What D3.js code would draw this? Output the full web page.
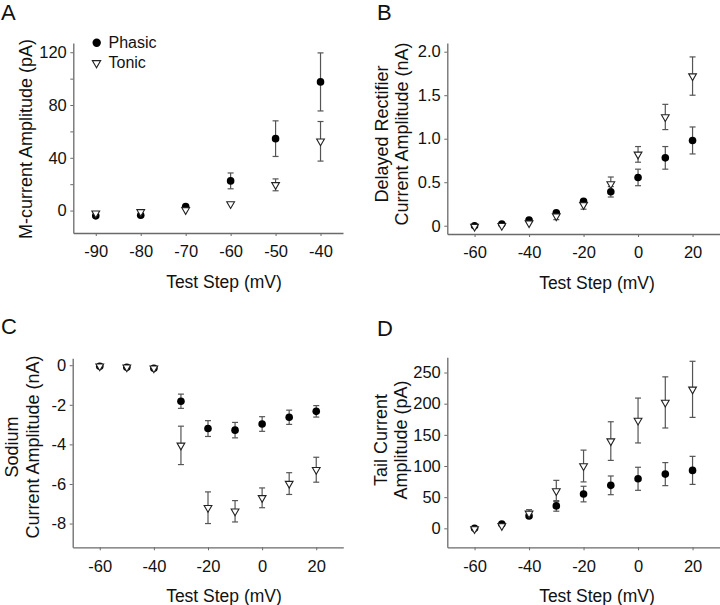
<!DOCTYPE html>
<html><head><meta charset="utf-8">
<script src="https://cdn.jsdelivr.net/npm/d3@7"></script>
<style>
body{margin:0;background:#fff;}
svg{display:block;font-family:"Liberation Sans",Arial,sans-serif;}
</style></head>
<body>
<svg id="chart" width="720" height="605"></svg>
<script>
// ---- Data ----
// Panel A: M-current
const stepsA = [-90, -80, -70, -60, -50, -40];
const phasicA = [-4, -3.5, 3, 22.5, 54.5, 97.5];
const phasicA_sem = [0, 0, 0, 6, 13.5, 22];
const tonicA = [-2, -1, 0.5, 5, 19.5, 52.5];
const tonicA_sem = [0, 0, 0, 0, 4.5, 15];
const yTicksA = [0, 40, 80, 120];
const yMinorA = [20, 60, 100];
const xTicksA = [-90, -80, -70, -60, -50, -40];

// Panel B: delayed rectifier
const stepsB = [-60, -50, -40, -30, -20, -10, 0, 10, 20];
const phasicB = [0, 0.02, 0.065, 0.15, 0.28, 0.39, 0.555, 0.78, 0.98];
const phasicB_sem = [0, 0, 0, 0, 0.02, 0.06, 0.095, 0.13, 0.155];
const tonicB = [-0.01, 0, 0.03, 0.11, 0.24, 0.48, 0.82, 1.25, 1.72];
const tonicB_sem = [0, 0, 0, 0.04, 0.05, 0.08, 0.09, 0.145, 0.22];
const yTicksB = [0, 0.5, 1.0, 1.5, 2.0];

// Panel C: sodium
const stepsC = [-60, -50, -40, -30, -20, -10, 0, 10, 20];
const phasicC = [-0.05, -0.1, -0.15, -1.82, -3.2, -3.28, -2.97, -2.63, -2.33];
const phasicC_sem = [0, 0, 0, 0.36, 0.4, 0.39, 0.37, 0.36, 0.29];
const tonicC = [-0.05, -0.1, -0.15, -4.05, -7.2, -7.38, -6.7, -5.98, -5.28];
const tonicC_sem = [0, 0, 0, 0.97, 0.8, 0.54, 0.5, 0.55, 0.63];
const yTicksC = [0, -2, -4, -6, -8];

// Panel D: tail current
const stepsD = [-60, -50, -40, -30, -20, -10, 0, 10, 20];
const phasicD = [0, 7, 20, 36, 55, 69, 79.5, 87, 93];
const phasicD_sem = [0, 0, 0, 8.5, 12.5, 15, 18.5, 18.5, 22.5];
const tonicD = [-1, 4, 24, 60, 100, 140, 173, 202, 223];
const tonicD_sem = [0, 0, 6, 17, 25.5, 31, 36, 41, 45];
const yTicksD = [0, 50, 100, 150, 200, 250];

const xTicksBCD = [-60, -40, -20, 0, 20];
const seriesNames = ["Phasic", "Tonic"];

// ---- Drawing ----
const svg = d3.select("#chart");
const AXIS = "#6a6a6a", BAR = "#555", TXT = "#111";
const intFmt = d => String(Math.round(d)).replace("\u2212", "-");
const fmt1 = d => d === 0 ? "0" : d.toFixed(1);

function panel(cfg) {
  const g = svg.append("g");
  const x = d3.scaleLinear().domain(cfg.xDomain).range(cfg.xRange);
  const y = d3.scaleLinear().domain(cfg.yDomain).range(cfg.yRange);
  const y0 = cfg.yRange[0], x0 = cfg.xRange[0];

  const xa = g.append("g").attr("transform", `translate(0,${y0})`)
    .call(d3.axisBottom(x).tickValues(cfg.xTicks).tickSize(3).tickSizeOuter(0).tickPadding(9.5).tickFormat(intFmt));
  const ya = g.append("g").attr("transform", `translate(${x0},0)`)
    .call(d3.axisLeft(y).tickValues(cfg.yTicks).tickSize(3).tickSizeOuter(0).tickPadding(3.5).tickFormat(cfg.yFormat));
  if (cfg.yMinor) {
    g.append("g").attr("transform", `translate(${x0},0)`)
      .call(d3.axisLeft(y).tickValues(cfg.yMinor).tickSize(3).tickSizeOuter(0).tickFormat(""))
      .select(".domain").remove();
  }
  [xa, ya].forEach(a => {
    a.selectAll("path.domain").attr("stroke", AXIS).attr("stroke-width", 1.3);
    a.selectAll("text").attr("fill", TXT).style("font-size", "16.5px");
  });
  g.selectAll("g.tick line").attr("stroke", AXIS);

  // error bars
  function bars(vals, sems) {
    const eb = g.append("g");
    cfg.steps.forEach((s, i) => {
      if (!sems[i]) return;
      const cx = x(s), hi = y(vals[i] + sems[i]), lo = y(vals[i] - sems[i]);
      eb.append("line").attr("x1", cx).attr("x2", cx).attr("y1", hi).attr("y2", lo).attr("stroke", BAR).attr("stroke-width", 1.2);
      eb.append("line").attr("x1", cx - 3).attr("x2", cx + 3).attr("y1", hi).attr("y2", hi).attr("stroke", BAR).attr("stroke-width", 1.2);
      eb.append("line").attr("x1", cx - 3).attr("x2", cx + 3).attr("y1", lo).attr("y2", lo).attr("stroke", BAR).attr("stroke-width", 1.2);
    });
  }
  bars(cfg.phasic, cfg.phasicSem);
  bars(cfg.tonic, cfg.tonicSem);

  g.append("g").selectAll("circle").data(cfg.steps).join("circle")
    .attr("cx", d => x(d)).attr("cy", (d, i) => y(cfg.phasic[i])).attr("r", 3.8).attr("fill", "#000");
  const tri = d3.symbol().type(d3.symbolTriangle).size(26);
  g.append("g").selectAll("path").data(cfg.steps).join("path")
    .attr("d", tri)
    .attr("transform", (d, i) => `translate(${x(d)},${y(cfg.tonic[i])}) rotate(180)`)
    .attr("fill", "#fff").attr("stroke", "#222").attr("stroke-width", 1.1);

  // titles
  g.append("text").attr("x", cfg.xTitleX).attr("y", y0 + 55).attr("text-anchor", "middle")
    .attr("fill", TXT).style("font-size", "17.5px").text("Test Step (mV)");
  cfg.yTitle.forEach((t, i) => {
    g.append("text").attr("transform", `translate(${cfg.yTitleX[i]},${cfg.yTitleY}) rotate(-90)`)
      .attr("text-anchor", "middle").attr("fill", TXT).style("font-size", "18px").text(t);
  });
  g.append("text").attr("x", cfg.letterPos[0]).attr("y", cfg.letterPos[1])
    .attr("fill", TXT).style("font-size", "22px").text(cfg.letter);
  return {g, x, y};
}

const pA = panel({
  letter: "A", letterPos: [1, 20],
  steps: stepsA, phasic: phasicA, phasicSem: phasicA_sem, tonic: tonicA, tonicSem: tonicA_sem,
  xDomain: [-95, -35], xRange: [73.3, 343], yDomain: [-17, 127], yRange: [233, 43],
  xTicks: xTicksA, yTicks: yTicksA, yMinor: yMinorA, yFormat: intFmt,
  xTitleX: 224, yTitle: ["M-current Amplitude (pA)"], yTitleX: [31.5], yTitleY: 139
});
// legend
const lg = pA.g.append("g");
lg.append("circle").attr("cx", 96.7).attr("cy", 42.7).attr("r", 4.2).attr("fill", "#000");
lg.append("path").attr("d", d3.symbol().type(d3.symbolTriangle).size(30))
  .attr("transform", "translate(96.5,63) rotate(180)").attr("fill", "#fff").attr("stroke", "#222").attr("stroke-width", 1.1);
lg.selectAll("text").data(seriesNames).join("text")
  .attr("x", 108.5).attr("y", (d, i) => 48 + i * 20.3).attr("fill", TXT).style("font-size", "16px").text(d => d);

panel({
  letter: "B", letterPos: [377, 20],
  steps: stepsB, phasic: phasicB, phasicSem: phasicB_sem, tonic: tonicB, tonicSem: tonicB_sem,
  xDomain: [-70, 30], xRange: [447.3, 719.8], yDomain: [-0.095, 2.1], yRange: [234, 43],
  xTicks: xTicksBCD, yTicks: yTicksB, yFormat: fmt1,
  xTitleX: 597, yTitle: ["Delayed Rectifier", "Current Amplitude (nA)"], yTitleX: [387.5, 408], yTitleY: 134
});
panel({
  letter: "C", letterPos: [1, 334],
  steps: stepsC, phasic: phasicC, phasicSem: phasicC_sem, tonic: tonicC, tonicSem: tonicC_sem,
  xDomain: [-70, 30], xRange: [72.7, 343.3], yDomain: [-9.2, 0.35], yRange: [547.3, 358.3],
  xTicks: xTicksBCD, yTicks: yTicksC, yFormat: intFmt,
  xTitleX: 224, yTitle: ["Sodium", "Current Amplitude (nA)"], yTitleX: [18, 38.5], yTitleY: 447
});
panel({
  letter: "D", letterPos: [377, 336],
  steps: stepsD, phasic: phasicD, phasicSem: phasicD_sem, tonic: tonicD, tonicSem: tonicD_sem,
  xDomain: [-70, 30], xRange: [447.3, 719.8], yDomain: [-30.4, 274.4], yRange: [547.3, 357.3],
  xTicks: xTicksBCD, yTicks: yTicksD, yFormat: intFmt,
  xTitleX: 597, yTitle: ["Tail Current", "Amplitude (pA)"], yTitleX: [387, 407], yTitleY: 440
});
</script>
</body></html>
